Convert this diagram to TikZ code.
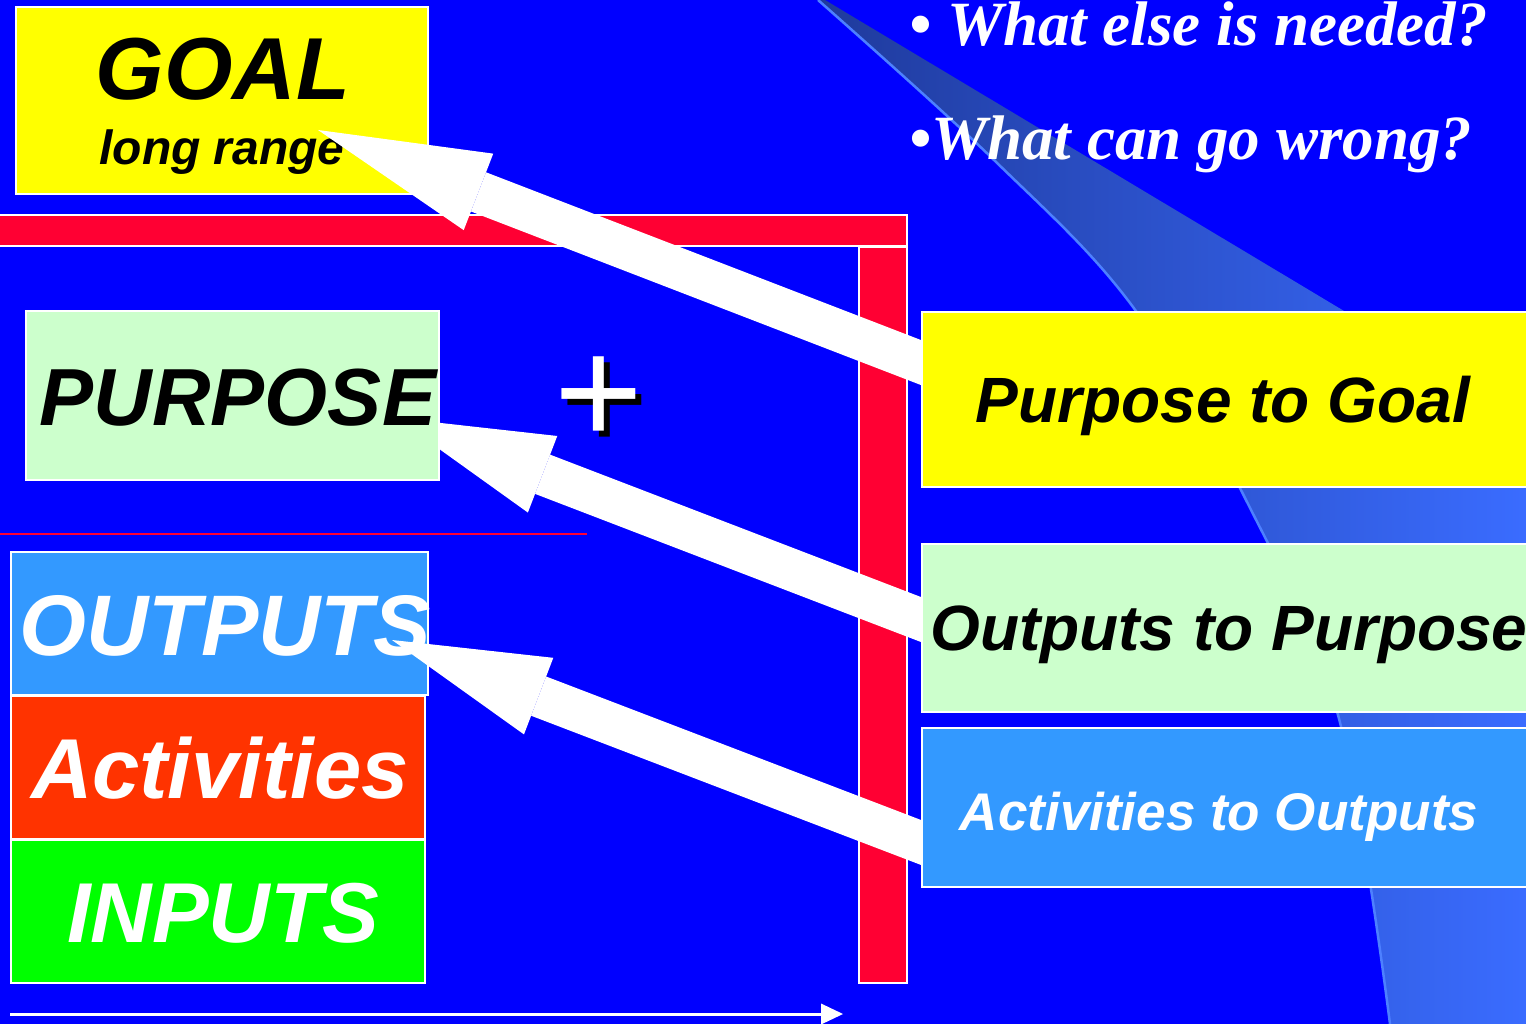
\documentclass[tikz,border=0pt]{standalone}
\usepackage{fontspec}
\usetikzlibrary{arrows.meta,calc}
\newfontfamily\sansf{Liberation Sans}
\newfontfamily\serf{Liberation Serif}
\newcommand\bis[1]{\sansf\bfseries\itshape\fontsize{#1pt}{#1pt}\selectfont}
\newcommand\bit[1]{\serf\bfseries\itshape\fontsize{#1pt}{#1pt}\selectfont}
\definecolor{bgblue}{HTML}{0000FF}
\definecolor{swA}{HTML}{1F3A9C}
\definecolor{swB}{HTML}{3A6CFF}
\definecolor{swL}{HTML}{4D80FF}
\definecolor{goalY}{HTML}{FFFF00}
\definecolor{purpG}{HTML}{CCFFCC}
\definecolor{outB}{HTML}{3399FF}
\definecolor{actR}{HTML}{FF3300}
\definecolor{inG}{HTML}{00FF00}
\definecolor{barR}{HTML}{FF0033}
\tikzset{
  box/.style={draw=white, line width=2pt, anchor=north west, inner sep=0pt},
  txt/.style={inner sep=0pt, anchor=base},
  bigarrow/.style={draw=white, line width=42pt,
    -{Triangle[length=#1, width=82pt, line width=0pt]}},
  thinarrow/.style={draw=white, line width=3pt,
    -{Triangle[length=22pt, width=21pt, line width=0pt]}}
}
\begin{document}
\begin{tikzpicture}[x=1pt,y=-1pt]
\useasboundingbox (0,0) rectangle (1526,1024);
\clip (0,0) rectangle (1526,1024);
% background
\fill[bgblue] (0,0) rectangle (1526,1024);
% swoosh
\shade[left color=swA, right color=swB]
  plot[smooth, tension=0.6] coordinates {(818,0) (994,160) (1133,307) (1246,500) (1338,715) (1390,1024)}
  -- (1526,1024) -- (1526,420) -- (825,0) -- cycle;
\draw[swL, line width=2.5pt]
  plot[smooth, tension=0.6] coordinates {(818,0) (994,160) (1133,307) (1246,500) (1338,715) (1390,1024)};
% red frame
\node[box, fill=barR, minimum width=914pt, minimum height=31pt] (hbar) at (-8,214) {};
\node[box, fill=barR, minimum width=48pt, minimum height=736pt] (vbar) at (858,246) {};
\draw[barR, line width=2.5pt] (0,534) coordinate (rl) -- (587,534) coordinate (rr);
% bottom arrow
\coordinate (bl) at (10,1014);
\coordinate (br) at (843,1014);
\draw[thinarrow] (bl) -- (br);
% arrow coordinates
\coordinate (t1) at (318,130);
\coordinate (s1) at (960,377.6);
\coordinate (t2) at (396,418);
\coordinate (s2) at (960,634.5);
\coordinate (t3) at (392,640);
\coordinate (s3) at (960,857.4);
% arrow 2 (behind PURPOSE)
\draw[bigarrow=157pt] (s2) -- (t2);
% left boxes
\node[box, fill=goalY, minimum width=412pt, minimum height=187pt] (goal) at (15,6) {};
\node[txt, font={\bis{88}}] (goalt) at (223,100) {GOAL};
\node[txt, font={\bis{48}}] (ranget) at (222,165) {long range};
\node[box, fill=purpG, minimum width=413pt, minimum height=169pt] (purpose) at (25,310) {};
\node[txt, font={\bis{81}}] (purposet) at (238,425) {PURPOSE};
\node[box, fill=outB, minimum width=417pt, minimum height=143pt] (outputs) at (10,551) {};
\node[txt, font={\bis{86}}, text=white] (outputst) at (225,655) {OUTPUTS};
\node[box, fill=actR, minimum width=414pt, minimum height=143pt] (activities) at (10,695) {};
\node[txt, font={\bis{85}}, text=white] (activitiest) at (220,798) {Activities};
\node[box, fill=inG, minimum width=414pt, minimum height=143pt] (inputs) at (10,839) {};
\node[txt, font={\bis{85}}, text=white] (inputst) at (223,942) {INPUTS};
% arrows 1 and 3
\draw[bigarrow=172pt] (s1) -- (t1);
\draw[bigarrow=157pt] (s3) -- (t3);
% right boxes
\node[box, fill=goalY, minimum width=640pt, minimum height=175pt] (p2g) at (921,311) {};
\node[txt, font={\bis{64}}] (p2gt) at (1223,422) {Purpose to Goal};
\node[box, fill=purpG, minimum width=640pt, minimum height=168pt] (o2p) at (921,543) {};
\node[txt, font={\bis{64}}, anchor=base west] (o2pt) at (930,650) {Outputs to Purpose};
\node[box, fill=outB, minimum width=640pt, minimum height=159pt] (a2o) at (921,727) {};
\node[txt, font={\bis{53}}, text=white] (a2ot) at (1219,830) {Activities to Outputs};
% plus sign
\node[inner sep=0pt, anchor=base west, font={\sansf\fontsize{152pt}{152pt}\selectfont}, text=black] (plusS) at (560,450) {+};
\node[inner sep=0pt, anchor=base west, font={\sansf\fontsize{152pt}{152pt}\selectfont}, text=white] (plus) at (554,444) {+};
% questions
\node[inner sep=0pt, anchor=base west, font={\bit{63}}, text=white] (q1) at (909,46) {• What else is needed?};
\node[inner sep=0pt, anchor=base west, font={\bit{63}}, text=white] (q2) at (909,160) {•What can go wrong?};
\end{tikzpicture}
\end{document}
